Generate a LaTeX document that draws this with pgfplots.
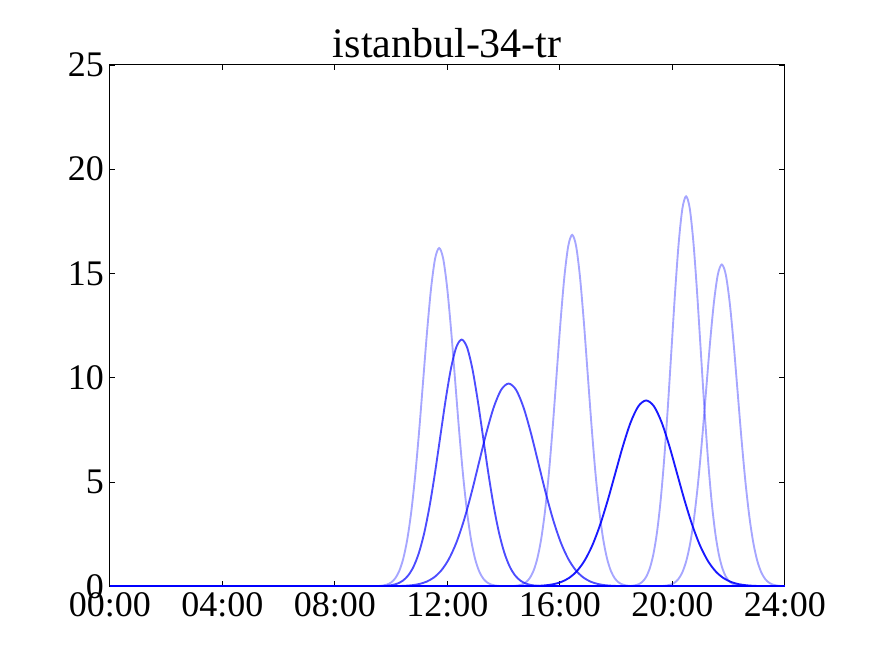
\documentclass[border=0pt]{standalone}
\usepackage{fontspec}
\setmainfont{Liberation Serif}
\usepackage{pgfplots}
\pgfplotsset{compat=1.18}
\begin{document}
\begin{tikzpicture}
\useasboundingbox (0,0) rectangle (654pt,490.5pt);
\begin{axis}[
  scale only axis,
  width=506.25pt, height=391pt,
  at={(82.35pt,50.8pt)}, anchor=south west,
  xmin=0, xmax=24, ymin=0, ymax=25,
  xtick={0,4,8,12,16,20,24},
  xticklabels={00:00,04:00,08:00,12:00,16:00,20:00,24:00},
  ytick={0,5,10,15,20,25},
  tick align=inside, tick pos=both,
  major tick length=4pt,
  axis line style={line width=0.8pt, black},
  every tick/.style={black, line width=0.6pt},
  /pgf/number format/assume math mode=true,
  tick label style={font=\fontsize{27}{32}\selectfont},
  xticklabel style={yshift=-1pt},
  yticklabel style={xshift=-1pt},
  title={istanbul-34-tr},
  title style={font=\fontsize{31.5}{36}\selectfont, yshift=-4pt},
  every axis plot/.append style={line width=1.4pt, smooth, no markers},
]
% baseline
\addplot[blue, sharp plot] coordinates {(0,0) (24,0)};
% curve 1
\addplot[blue, opacity=0.35] coordinates {
(9.43,0.0054) (9.5725,0.0143) (9.715,0.0355) (9.8575,0.0825) (10.00,0.180) (10.1425,0.3697) (10.285,0.713) (10.4275,1.2905) (10.57,2.195) (10.7125,3.508) (10.855,5.266) (10.9975,7.426) (11.14,9.838) (11.2825,12.244) (11.425,14.314) (11.5675,15.721) (11.71,16.22) (11.8525,15.721) (11.995,14.314) (12.1375,12.244) (12.28,9.838) (12.4225,7.426) (12.565,5.266) (12.7075,3.508) (12.85,2.195) (12.9925,1.2905) (13.135,0.713) (13.2775,0.3697) (13.42,0.180) (13.5625,0.0825) (13.705,0.0355) (13.8475,0.0143) (13.99,0.0054)};
% curve 2
\addplot[blue, opacity=0.7] coordinates {
(9.47,0.0040) (9.66,0.0105) (9.85,0.0259) (10.04,0.0602) (10.23,0.1314) (10.42,0.2696) (10.61,0.5198) (10.80,0.9412) (10.99,1.601) (11.18,2.558) (11.37,3.841) (11.56,5.416) (11.75,7.175) (11.94,8.930) (12.13,10.440) (12.32,11.466) (12.51,11.83) (12.70,11.466) (12.89,10.440) (13.08,8.930) (13.27,7.175) (13.46,5.416) (13.65,3.841) (13.84,2.558) (14.03,1.601) (14.22,0.9412) (14.41,0.5198) (14.60,0.2696) (14.79,0.1314) (14.98,0.0602) (15.17,0.0259) (15.36,0.0105) (15.55,0.0040)};
% curve 3
\addplot[blue, opacity=0.7] coordinates {
(9.94,0.0033) (10.205,0.0086) (10.47,0.0213) (10.735,0.0494) (11.00,0.108) (11.265,0.2215) (11.53,0.427) (11.795,0.7733) (12.06,1.3155) (12.325,2.102) (12.59,3.156) (12.855,4.450) (13.12,5.895) (13.385,7.337) (13.65,8.578) (13.915,9.421) (14.18,9.72) (14.445,9.421) (14.71,8.578) (14.975,7.337) (15.24,5.895) (15.505,4.450) (15.77,3.156) (16.035,2.102) (16.30,1.3155) (16.565,0.7733) (16.83,0.427) (17.095,0.2215) (17.36,0.108) (17.625,0.0494) (17.89,0.0213) (18.155,0.0086) (18.42,0.0033)};
% curve 4
\addplot[blue, opacity=0.35] coordinates {
(14.24,0.0056) (14.3775,0.0149) (14.515,0.0369) (14.6525,0.0857) (14.79,0.187) (14.9275,0.3840) (15.065,0.740) (15.2025,1.3406) (15.34,2.280) (15.4775,3.644) (15.615,5.470) (15.7525,7.714) (15.89,10.220) (16.0275,12.719) (16.165,14.870) (16.3025,16.332) (16.44,16.85) (16.5775,16.332) (16.715,14.870) (16.8525,12.719) (16.99,10.220) (17.1275,7.714) (17.265,5.470) (17.4025,3.644) (17.54,2.280) (17.6775,1.3406) (17.815,0.740) (17.9525,0.3840) (18.09,0.187) (18.2275,0.0857) (18.365,0.0369) (18.5025,0.0149) (18.64,0.0056)};
% curve 5
\addplot[blue, opacity=0.9] coordinates {
(14.67,0.0030) (14.945,0.0079) (15.22,0.0195) (15.495,0.0453) (15.77,0.099) (16.045,0.2031) (16.32,0.3915) (16.595,0.7089) (16.87,1.2059) (17.145,1.927) (17.42,2.893) (17.695,4.079) (17.97,5.404) (18.245,6.726) (18.52,7.863) (18.795,8.636) (19.07,8.91) (19.345,8.636) (19.62,7.863) (19.895,6.726) (20.17,5.404) (20.445,4.079) (20.72,2.893) (20.995,1.927) (21.27,1.2059) (21.545,0.7089) (21.82,0.3915) (22.095,0.2031) (22.37,0.099) (22.645,0.0453) (22.92,0.0195) (23.195,0.0079) (23.47,0.0030)};
% curve 6
\addplot[blue, opacity=0.35] coordinates {
(18.41,0.0063) (18.54,0.0165) (18.67,0.041) (18.80,0.0951) (18.93,0.2078) (19.06,0.4262) (19.19,0.8217) (19.32,1.4878) (19.45,2.531) (19.58,4.044) (19.71,6.071) (19.84,8.561) (19.97,11.342) (20.10,14.116) (20.23,16.503) (20.36,18.125) (20.49,18.7) (20.62,18.125) (20.75,16.503) (20.88,14.116) (21.01,11.342) (21.14,8.561) (21.27,6.071) (21.40,4.044) (21.53,2.531) (21.66,1.4878) (21.79,0.8217) (21.92,0.4262) (22.05,0.2078) (22.18,0.0951) (22.31,0.041) (22.44,0.0165) (22.57,0.0063)};
% curve 7
\addplot[blue, opacity=0.35] coordinates {
(19.52,0.0052) (19.66,0.0136) (19.80,0.0338) (19.94,0.0785) (20.08,0.1714) (20.22,0.3516) (20.36,0.678) (20.50,1.2276) (20.64,2.088) (20.78,3.337) (20.92,5.009) (21.06,7.064) (21.20,9.359) (21.34,11.647) (21.48,13.617) (21.62,14.955) (21.76,15.43) (21.90,14.955) (22.04,13.617) (22.18,11.647) (22.32,9.359) (22.46,7.064) (22.60,5.009) (22.74,3.337) (22.88,2.088) (23.02,1.2276) (23.16,0.678) (23.30,0.3516) (23.44,0.1714) (23.58,0.0785) (23.72,0.0338) (23.86,0.0136) (24.00,0.0052)};
\end{axis}
\end{tikzpicture}
\end{document}
